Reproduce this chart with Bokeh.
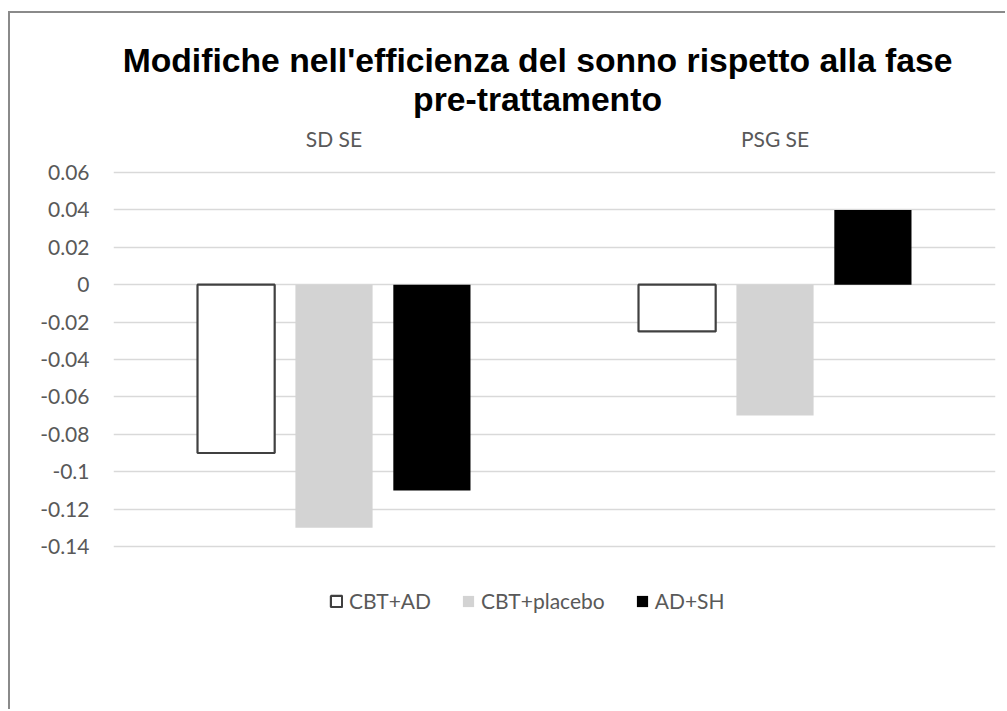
from bokeh.plotting import figure
from bokeh.models import (ColumnDataSource, FactorRange, Range1d, FixedTicker,
                          CustomJSTickFormatter, Label, Legend)
from bokeh.core.properties import value
from bokeh.transform import dodge
from bokeh.embed import file_html
from bokeh.resources import INLINE

# --- data -------------------------------------------------------------
categories = ["SD SE", "PSG SE"]
series_names = ["CBT+AD", "CBT+placebo", "AD+SH"]
cbt_ad = [-0.09, -0.025]
cbt_placebo = [-0.13, -0.07]
ad_sh = [-0.11, 0.04]
y_ticks = [-0.14, -0.12, -0.10, -0.08, -0.06, -0.04, -0.02, 0.0, 0.02, 0.04, 0.06]
title_lines = ["Modifiche nell'efficienza del sonno rispetto alla fase",
               "pre-trattamento"]

source = ColumnDataSource(data=dict(cat=categories, cbt_ad=cbt_ad,
                                    cbt_placebo=cbt_placebo, ad_sh=ad_sh))

TEXT_FONT = "Lato"
TEXT_COLOR = "#595959"

# the plot frame spans the full height so that title, category names and
# legend can sit inside it; only the tick values get grid lines
p = figure(width=997, height=698, output_backend="svg", toolbar_location=None,
           x_range=FactorRange(*categories, range_padding=0),
           y_range=Range1d(-0.22824, 0.14503),
           min_border_left=103, min_border_right=12,
           min_border_top=0, min_border_bottom=0)

# chart-area border drawn around the canvas
p.margin = (11, 0, 0, 8)
p.styles = {"border-left": "2px solid #8a8a8a", "border-top": "2px solid #8a8a8a"}

p.background_fill_color = "white"
p.border_fill_color = "white"
p.outline_line_color = None

# grid
p.xgrid.grid_line_color = None
p.ygrid.grid_line_color = "#d9d9d9"
p.ygrid.grid_line_width = 1.6

# y axis
p.yaxis.ticker = FixedTicker(ticks=y_ticks)
p.yaxis.formatter = CustomJSTickFormatter(code="return String(Math.round(tick * 100) / 100);")
p.yaxis.axis_line_color = None
p.yaxis.major_tick_line_color = None
p.yaxis.minor_tick_line_color = None
p.yaxis.major_tick_out = 0
p.yaxis.major_label_standoff = 24
p.yaxis.major_label_text_font = TEXT_FONT
p.yaxis.major_label_text_font_size = "21px"
p.yaxis.major_label_text_color = TEXT_COLOR

p.xaxis.visible = False

# category names above the bars
p.text(x="cat", y=0.0782, text="cat", source=source, text_align="center",
       text_baseline="alphabetic", text_font=value(TEXT_FONT),
       text_font_size="21px", text_color=TEXT_COLOR)

# bars
bar_w = 0.175
offset = 0.222
r1 = p.vbar(x=dodge("cat", -offset, range=p.x_range), top="cbt_ad", bottom=0,
            width=bar_w, source=source, fill_color="white",
            line_color="#404040", line_width=2.2)
r2 = p.vbar(x=dodge("cat", 0, range=p.x_range), top="cbt_placebo", bottom=0,
            width=bar_w, source=source, fill_color="#d3d3d3", line_color=None)
r3 = p.vbar(x=dodge("cat", offset, range=p.x_range), top="ad_sh", bottom=0,
            width=bar_w, source=source, fill_color="black", line_color=None)

legend = Legend(items=[(series_names[0], [r1]), (series_names[1], [r2]),
                       (series_names[2], [r3])],
                orientation="horizontal", location=(216, 98),
                glyph_width=14, glyph_height=14, label_standoff=6, spacing=30,
                padding=0, margin=0, label_height=20,
                label_text_font=TEXT_FONT, label_text_font_size="21px",
                label_text_color=TEXT_COLOR,
                border_line_alpha=0, background_fill_alpha=0)
p.add_layout(legend)

# two-line chart title
for line_text, ty in zip(title_lines, [0.12043, 0.09904]):
    p.add_layout(Label(x=0.9615, y=ty, text=line_text, text_align="center",
                       text_baseline="alphabetic", text_font="Liberation Sans",
                       text_font_style="bold", text_font_size="33.7px",
                       text_color="black"))

open("out.html", "w").write(file_html(p, INLINE))
